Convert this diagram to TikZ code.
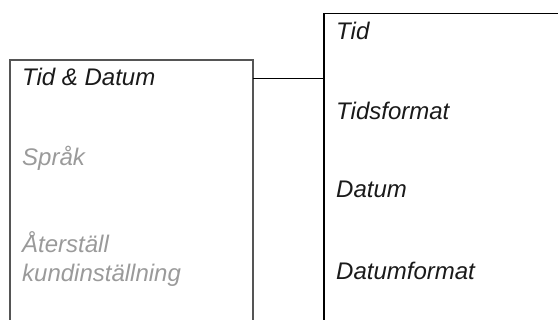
\documentclass[tikz,border=0pt]{standalone}
\usepackage{fontspec}
\setmainfont{Liberation Sans}
\usetikzlibrary{positioning}
\definecolor{framegray}{HTML}{555555}
\definecolor{dimgray}{HTML}{9A9A9A}
\definecolor{itemblack}{HTML}{1A1A1A}

\begin{document}
\begin{tikzpicture}[x=1pt, y=-1pt,
  item/.style={anchor=base west, inner sep=0pt, text=itemblack,
               font=\fontsize{24}{29}\selectfont\itshape},
  dimitem/.style={item, text=dimgray},
  frame/.style={line width=1.4pt}]

  \useasboundingbox (0,0) rectangle (558,320);

  % left menu (cut off at the bottom)
  \coordinate (lbl) at (10,320);
  \coordinate (ltl) at (10,60);
  \coordinate (ltr) at (253,60);
  \coordinate (lbr) at (253,320);
  \draw[frame, framegray] (lbl) -- (ltl) -- (ltr) -- (lbr);

  \node[item]    (tiddatum) at (22,86)  {Tid \& Datum};
  \node[dimitem] (sprak)    at (22,166) {Språk};
  \node[dimitem] (reset)    at (22,253) {Återställ};
  \node[dimitem] (reset2)   at (22,282) {kundinställning};

  % right submenu (open to the right)
  \coordinate (rbl) at (324,320);
  \coordinate (rtl) at (324,13.5);
  \coordinate (rtr) at (558,13.5);
  \draw[frame, black] (rbl) -- (rtl) -- (rtr);

  \node[item] (tid)         at (336,40)  {Tid};
  \node[item] (tidsformat)  at (336,120) {Tidsformat};
  \node[item] (datum)       at (336,198) {Datum};
  \node[item] (datumformat) at (336,280) {Datumformat};

  % link between the menus
  \coordinate (linkl) at (253,79);
  \coordinate (linkr) at (324,79);
  \draw[line width=1pt] (linkl) -- (linkr);
\end{tikzpicture}
\end{document}
